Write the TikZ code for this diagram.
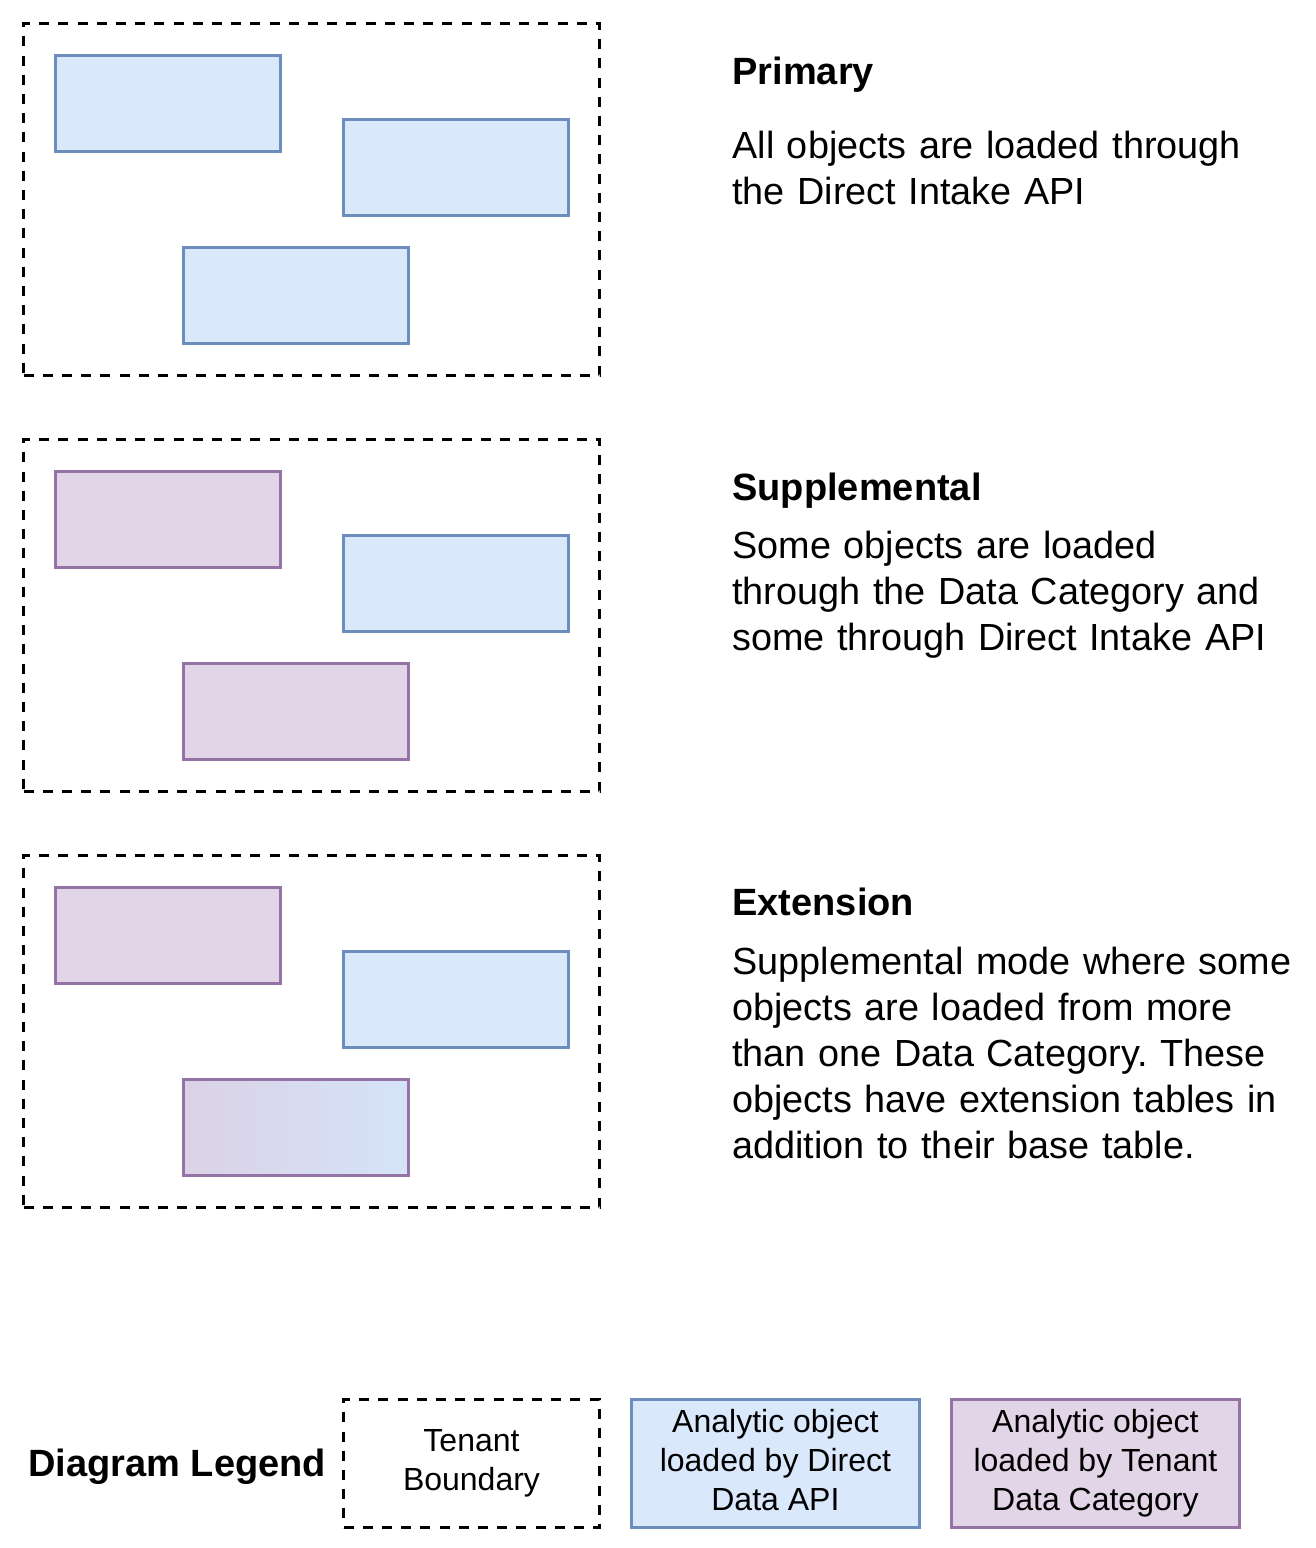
\documentclass[tikz,border=0pt]{standalone}
\usepackage{fontspec}
\setmainfont{Liberation Sans}
\frenchspacing
\definecolor{blueFill}{HTML}{DAE8FC}
\definecolor{blueLine}{HTML}{6C8EBF}
\definecolor{purpFill}{HTML}{E1D5E7}
\definecolor{purpLine}{HTML}{9673A6}
\tikzset{
  tenant/.style = {draw=black, line width=1.5pt, dash pattern=on 5pt off 4.6pt, anchor=north west, inner sep=0pt, minimum width=288pt, minimum height=176pt},
  direct/.style = {draw=blueLine, fill=blueFill, line width=1.4pt, anchor=north west, inner sep=0pt, minimum width=112.5pt, minimum height=48pt},
  category/.style = {direct, draw=purpLine, fill=purpFill},
  mixed/.style = {direct, draw=purpLine, left color=purpFill!95!blueLine, right color=blueFill!95!blueLine},
  heading/.style = {anchor=base west, inner sep=0pt, font=\bfseries\fontsize{19}{23}\selectfont},
  blurb/.style = {anchor=north west, inner sep=0pt, text width=290pt, align=left, font=\fontsize{18.9}{23}\selectfont},
  keytext/.style = {align=center, text depth=3.4pt, font=\fontsize{16}{19.5}\selectfont}
}
\begin{document}
\begin{tikzpicture}[x=0.5pt, y=-0.5pt]
      \useasboundingbox (0,0) rectangle (1316,1548);
      % primary
      \node [tenant] (tenantP) at (22,22) {};
      \node [direct] (objP1) at (54,54) {};
      \node [direct] (objP2) at (342,118) {};
      \node [direct] (objP3) at (182,246) {};
      \node [heading] (headP) at (732,84) {Primary};
      \node [blurb] (textP) at (732,131) {All objects are loaded through\\the Direct Intake API};
      % supplemental
      \node [tenant] (tenantS) at (22,438) {};
      \node [category] (objS1) at (54,470) {};
      \node [direct] (objS2) at (342,534) {};
      \node [category] (objS3) at (182,662) {};
      \node [heading] (headS) at (732,500) {Supplemental};
      \node [blurb] (textS) at (732,531) {Some objects are loaded\\through the Data Category and\\some through Direct Intake API};
      % extension
      \node [tenant] (tenantE) at (22,854) {};
      \node [category] (objE1) at (54,886) {};
      \node [direct] (objE2) at (342,950) {};
      \node [mixed] (objE3) at (182,1078) {};
      \node [heading] (headE) at (732,915) {Extension};
      \node [blurb] (textE) at (732,947) {Supplemental mode where some\\objects are loaded from more\\than one Data Category. These\\objects have extension tables in\\addition to their base table.};
      % legend
      \node [heading] (legendHead) at (28,1476) {Diagram Legend};
      \node [tenant, keytext, minimum width=128pt, minimum height=64pt] (keyTenant) at (342,1398) {Tenant\\Boundary};
      \node [direct, keytext, minimum width=144pt, minimum height=64pt] (keyDirect) at (630,1398) {Analytic object\\loaded by Direct\\Data API};
      \node [category, keytext, minimum width=144pt, minimum height=64pt] (keyCategory) at (950,1398) {Analytic object\\loaded by Tenant\\Data Category};
    \end{tikzpicture}
\end{document}
